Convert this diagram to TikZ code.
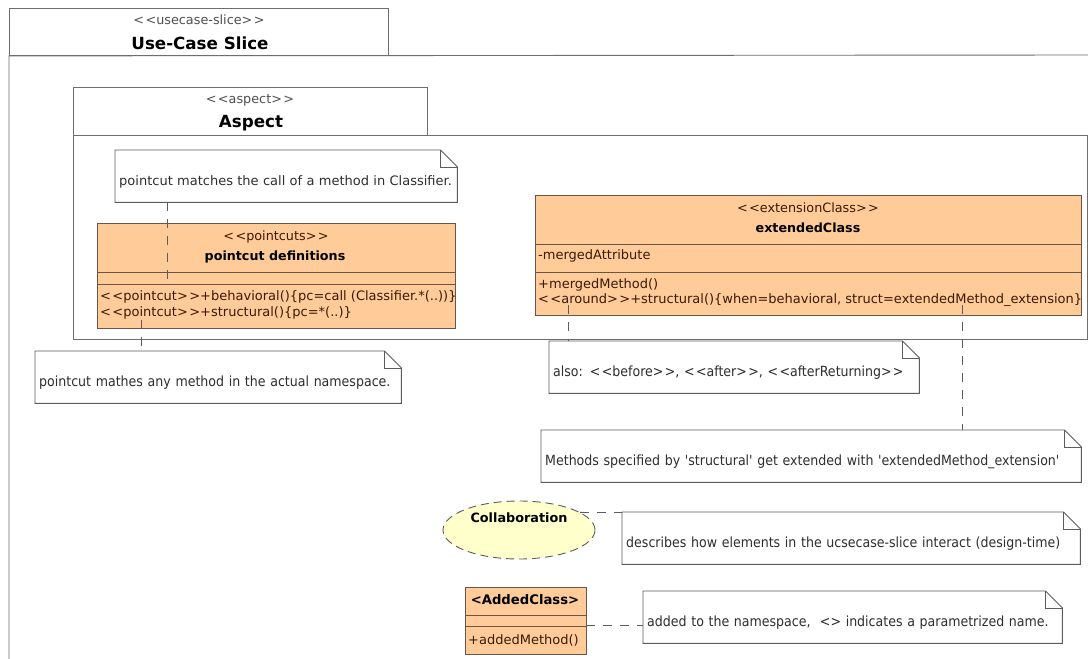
\documentclass[tikz,border=0pt]{standalone}
\usepackage{fontspec}
\setmainfont{DejaVu Sans}
\newfontfamily\condfont{DejaVu Sans Condensed}
\usepackage{xcolor}
\definecolor{peach}{HTML}{FFCC99}
\definecolor{umlbrown}{HTML}{6B5546}
\definecolor{umltext}{HTML}{3A1A08}
\definecolor{framegray}{HTML}{6E6E6E}
\definecolor{notegray}{HTML}{5C5C5C}
\definecolor{notetext}{HTML}{2E2E2E}
\definecolor{stereogray}{HTML}{505050}
\definecolor{collabfill}{HTML}{FFFFCC}
\usepackage{tikz}
\usetikzlibrary{positioning,calc,shapes.geometric}
\newcommand\ster[1]{<\kern1.4pt<#1>\kern1.4pt>}
\tikzset{
  frame/.style    ={draw=framegray,line width=0.9pt},
  tabbox/.style   ={draw=framegray,line width=0.9pt,anchor=north west,inner sep=0pt},
  classbox/.style ={draw=umlbrown,fill=peach,line width=0.9pt,anchor=north west,
                    inner sep=0pt},
  divider/.style  ={draw=umlbrown,line width=0.9pt},
  stereo/.style   ={font=\fontsize{12.8}{14}\selectfont,text=umltext,inner sep=0pt},
  cname/.style    ={font=\fontsize{12.7}{14}\selectfont\bfseries,text=black,inner sep=0pt},
  member/.style   ={font=\fontsize{13}{15}\selectfont,text=umltext,inner sep=0pt,
                    anchor=west},
  tabstereo/.style={font=\fontsize{12.8}{14}\selectfont,text=stereogray,inner sep=0pt},
  tabname/.style  ={font=\fontsize{16.7}{19}\selectfont\bfseries,text=black,inner sep=0pt},
  notebox/.style  ={anchor=north west,fill=white,inner xsep=4pt,inner ysep=0pt,
                    align=left,minimum height=52pt,text height=22pt,text depth=4pt,
                    font=\condfont\fontsize{14}{16}\selectfont,text=notetext},
  noteline/.style ={draw=notegray,line width=0.9pt},
  notelink/.style ={draw=notegray,line width=0.9pt,dash pattern=on 9pt off 8pt},
  collab/.style   ={ellipse,draw=notegray,fill=collabfill,line width=0.9pt,
                    dash pattern=on 8pt off 5pt,minimum width=152pt,minimum height=58pt,
                    inner sep=0pt,font=\fontsize{12.8}{14}\selectfont\bfseries,
                    text depth=24pt},
}

\begin{document}
\begin{tikzpicture}[x=1pt,y=-1pt]
\useasboundingbox (0,0) rectangle (1088,659);
\fill[white] (0,0) rectangle (1088,659);
% use-case slice frame
\node[tabbox,minimum width=379pt,minimum height=47pt] (slicetab) at (9,8) {};
\draw[frame] (9,662) -- (slicetab.south west) -- (1092,55);
\node[tabstereo] (slicest) at (199,20) {\ster{usecase-slice}};
\node[tabname] (slicename) at (200,43) {Use-Case Slice};
% aspect frame
\node[tabbox,minimum width=354pt,minimum height=48pt] (asptab) at (73,87) {};
\draw[frame] (asptab.south west) rectangle (1087,339);
\node[tabstereo] (aspst) at (250,100) {\ster{aspect}};
\node[tabname] (aspname) at (251,123) {Aspect};
% pointcut definitions
\node[classbox,minimum width=358pt,minimum height=105pt] (pcdef) at (97,223) {};
\draw[divider] (97,272) -- (455,272);
\draw[divider] (97,284) -- (455,284);
\node[stereo] (pcst) at (276,237) {\ster{pointcuts}};
\node[cname] (pcname) at (275,257) {pointcut definitions};
\node[member] (pcop1) at (100,297) {\ster{pointcut}+behavioral()\{pc=call (Classifier.*(..))\}};
\node[member] (pcop2) at (100,313) {\ster{pointcut}+structural()\{pc=*(..)\}};
% extended class
\node[classbox,minimum width=546pt,minimum height=120pt] (ext) at (535,195) {};
\draw[divider] (535,244) -- (1081,244);
\draw[divider] (535,272) -- (1081,272);
\node[stereo] (extst) at (808,208) {\ster{extensionClass}};
\node[cname] (extname) at (808,228) {extendedClass};
\node[member] (extattr) at (538,256) {-mergedAttribute};
\node[member] (extop1) at (538,285) {+mergedMethod()};
\node[member] (extop2) at (538,300) {\ster{around}+structural()\{when=behavioral, struct=extendedMethod\_extension\}};
% notes
\node[notebox,text width=334pt,font=\fontsize{13}{15}\selectfont] (n1) at (115,150)
  {pointcut matches the call of a method in Classifier.};
\node[notebox,text width=358pt] (n2) at (35,351)
  {pointcut mathes any method in the actual namespace.};
\node[notebox,text width=362pt] (n3) at (549,341)
  {also: \ster{before}, \ster{after}, \ster{afterReturning}};
\node[notebox,text width=532pt] (n4) at (541,430)
  {Methods specified by 'structural' get extended with 'extendedMethod\_extension'};
\node[notebox,text width=450pt] (n5) at (622,512)
  {describes how elements in the ucsecase-slice interact (design-time)};
\node[notebox,text width=411pt] (n6) at (643,591)
  {added to the namespace, \ <> indicates a parametrized name.};
% note outlines with folded corner
\foreach \n in {n1,n2,n3,n4,n5,n6}
  {\draw[noteline] (\n.north west) -- ([xshift=-17pt]\n.north east)
     -- ([yshift=-17pt]\n.north east) -- (\n.south east) -- (\n.south west) -- cycle;
   \draw[noteline] ([xshift=-17pt]\n.north east) |- ([yshift=-17pt]\n.north east);}
% collaboration and added class
\node[collab] (collab) at (519,530) {Collaboration};
\node[classbox,minimum width=121pt,minimum height=67pt] (added) at (465,587) {};
\draw[divider] (465,615) -- (586,615);
\draw[divider] (465,626) -- (586,626);
\node[cname,font=\fontsize{13.2}{15}\selectfont\bfseries] (addedname) at (525,600) {<AddedClass>};
\node[member] (addedop) at (468,640) {+addedMethod()};
% note links
\coordinate (pcTop) at (167,283);
\coordinate (pcBot) at (141,320);
\coordinate (extA) at (568,305);
\coordinate (extB) at (962,305);
\coordinate (addedR) at (586,625);
\draw[notelink] (n1.south -| pcTop) -- (pcTop);
\draw[notelink] (pcBot) -- (pcBot |- n2.north);
\draw[notelink] (extA) -- (extA |- n3.north);
\draw[notelink] (extB) -- (extB |- n4.north);
\draw[notelink] (collab.16) -- (collab.16 -| n5.west);
\draw[notelink] (addedR) -- (addedR -| n6.west);
\end{tikzpicture}
\end{document}
